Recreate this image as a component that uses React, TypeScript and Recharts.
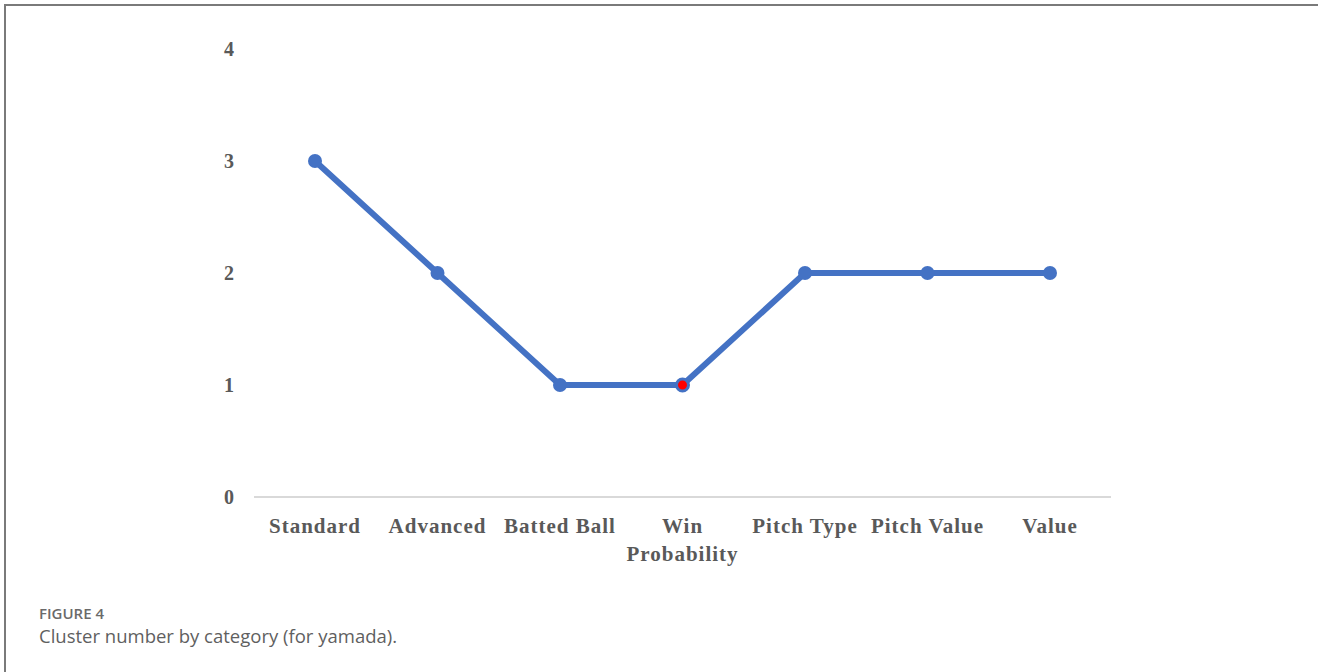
import { LineChart, Line, XAxis, YAxis, ReferenceLine } from 'recharts'

const categories = [
  'Standard',
  'Advanced',
  'Batted Ball',
  'Win Probability',
  'Pitch Type',
  'Pitch Value',
  'Value',
]
const clusterCounts = [3, 2, 1, 1, 2, 2, 2]
const yTicks = [0, 1, 2, 3, 4]
// the one point drawn with a red centre
const highlighted = 'Win Probability'

const data = categories.map((category, i) => ({ category, clusters: clusterCounts[i] }))

const LINE = '#4472C4'
const TEXT = '#595959'
const SERIF = '"Liberation Serif", "Times New Roman", serif'

// long names go onto two lines, one word each
function CategoryTick(props: any) {
  const { x, y, payload } = props
  const label: string = payload.value
  const lines = label.length > 12 ? label.split(' ') : [label]
  return (
    <text
      x={x}
      y={y}
      textAnchor="middle"
      fill={TEXT}
      fontFamily={SERIF}
      fontWeight={700}
      fontSize={21}
      letterSpacing={1}
    >
      {lines.map((line, i) => (
        <tspan key={line} x={x} dy={i === 0 ? 15 : 28}>
          {line}
        </tspan>
      ))}
    </text>
  )
}

function Dot(props: any) {
  const { cx, cy, payload } = props
  if (cx == null || cy == null) return null
  const red = payload.category === highlighted
  return (
    <circle
      key={payload.category}
      cx={cx}
      cy={cy}
      r={red ? 6 : 7}
      fill={red ? '#FF0000' : LINE}
      stroke={LINE}
      strokeWidth={red ? 3 : 0}
    />
  )
}

export default function App() {
  return (
    <div style={{ position: 'fixed', left: 0, top: 0, width: 1318, height: 672, background: '#fff', overflow: 'hidden' }}>
      {/* frame edges, top and left */}
      <div
        style={{
          position: 'absolute',
          left: 4,
          top: 4,
          width: 1330,
          height: 680,
          borderTop: '2px solid #7a7a7a',
          borderLeft: '2px solid #7a7a7a',
          boxSizing: 'border-box',
        }}
      />

      <div style={{ position: 'absolute', left: 0, top: 0 }}>
        <LineChart
          width={1318}
          height={672}
          data={data}
          margin={{ top: 49, right: 207, bottom: 0, left: 194 }}
        >
          <XAxis
            dataKey="category"
            axisLine={false}
            tickLine={false}
            tickSize={0}
            tickMargin={21}
            height={175}
            interval={0}
            padding={{ left: 61, right: 61 }}
            tick={<CategoryTick />}
          />
          <YAxis
            type="number"
            domain={[0, 4]}
            ticks={yTicks}
            width={60}
            axisLine={false}
            tickLine={false}
            tickSize={0}
            tickMargin={20}
            tick={{ fill: TEXT, fontSize: 20, fontWeight: 700, fontFamily: SERIF }}
          />
          <ReferenceLine y={0} stroke="#D9D9D9" strokeWidth={2} />
          <Line
            type="linear"
            dataKey="clusters"
            stroke={LINE}
            strokeWidth={6}
            dot={<Dot />}
            activeDot={false}
            isAnimationActive={false}
          />
        </LineChart>
      </div>

      <div style={{ position: 'absolute', left: 39, top: 603, fontFamily: '"Open Sans", sans-serif' }}>
        <div style={{ fontSize: 15, fontWeight: 600, lineHeight: '20px', color: '#6a6a6a' }}>FIGURE 4</div>
        <div style={{ fontSize: 18.5, lineHeight: '26px', color: '#5f5f5f' }}>Cluster number by category (for yamada).</div>
      </div>
    </div>
  )
}
